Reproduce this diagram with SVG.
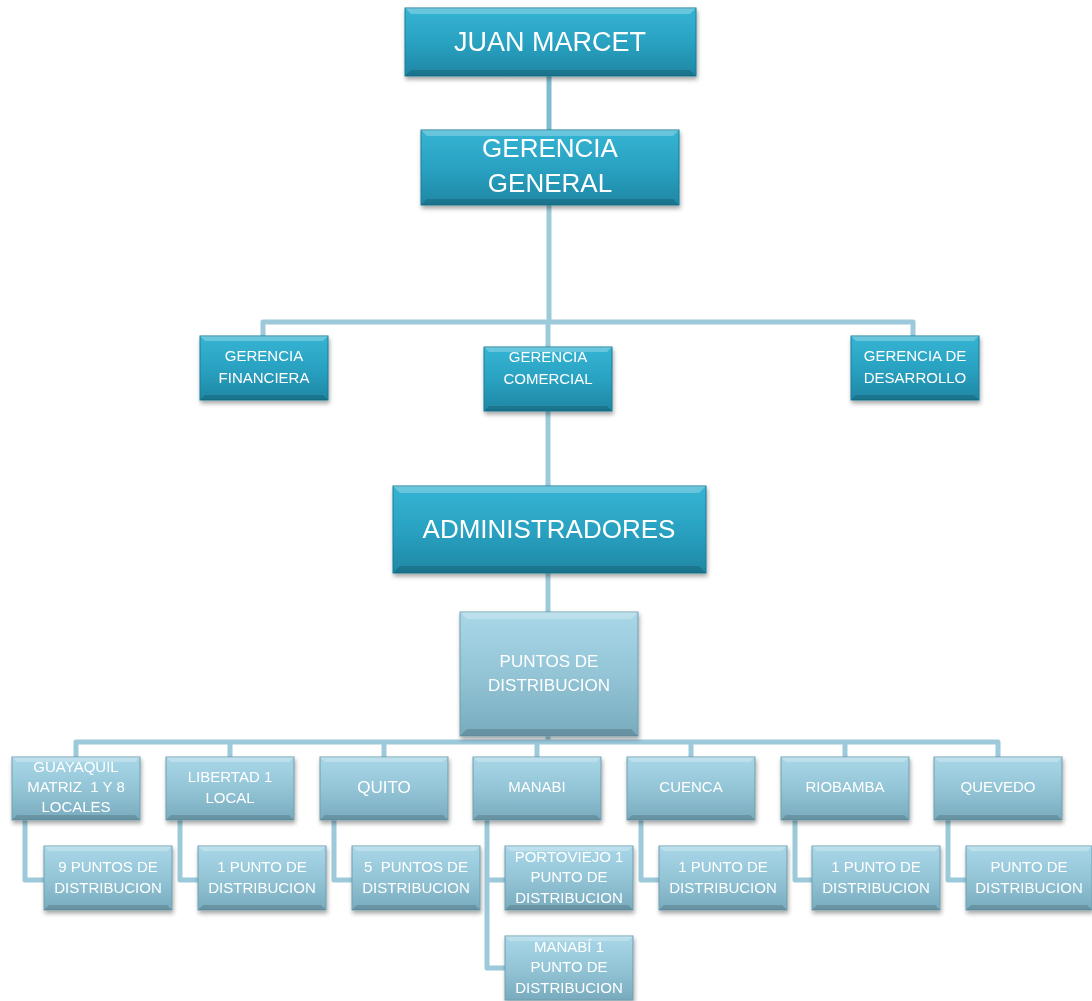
<svg xmlns="http://www.w3.org/2000/svg" width="1092" height="1001" viewBox="0 0 1092 1001">
<defs>
<linearGradient id="gDark" x1="0" y1="0" x2="0" y2="1">
<stop offset="0" stop-color="#35b4d3"/>
<stop offset="0.5" stop-color="#2aa2c2"/>
<stop offset="1" stop-color="#1e87a4"/>
</linearGradient>
<linearGradient id="gLight" x1="0" y1="0" x2="0" y2="1">
<stop offset="0" stop-color="#a9d7e8"/>
<stop offset="0.5" stop-color="#93c5d7"/>
<stop offset="1" stop-color="#78abbd"/>
</linearGradient>
<filter id="sh" x="-10%" y="-10%" width="130%" height="140%">
<feDropShadow dx="1" dy="3" stdDeviation="2" flood-color="#000" flood-opacity="0.35"/>
</filter>
</defs>
<style>
.dark{fill:url(#gDark);stroke:#1b7c97;stroke-width:1}
.light{fill:url(#gLight);stroke:#6f9fb0;stroke-width:1}
.bt{fill:#ffffff;opacity:0.25}
.bb{fill:#000000;opacity:0.15}
.bs{fill:#000000;opacity:0.06}
.node{filter:url(#sh)}
text{font-family:"Liberation Sans",Arial,sans-serif;fill:#ffffff;text-anchor:middle}
.big{font-size:27px}
.mid{font-size:26px}
.sm{font-size:15px}
.conn{fill:none;stroke:#9ccadb;stroke-width:5;stroke-linejoin:round}
.connD{fill:none;stroke:#7fbcd0;stroke-width:5}
</style>
<g id="connectors">
<path class="connD" d="M549,76 V130"/>
<path class="conn" d="M549,205 V322"/>
<path class="conn" d="M263,336 V322 H913 V336"/>
<path class="conn" d="M548,322 V347"/>
<path class="conn" d="M548,411 V486"/>
<path class="conn" d="M548,573 V612"/>
<path class="conn" d="M548,736 V742"/>
<path class="conn" d="M76,757 V742 H998 V757"/>
<path class="conn" d="M230,742 V757 M384,742 V757 M537,742 V757 M691,742 V757 M845,742 V757"/>
<path class="conn" d="M25,820 V880 H44"/>
<path class="conn" d="M180,820 V880 H198"/>
<path class="conn" d="M334,820 V880 H352"/>
<path class="conn" d="M487,820 V968 H505 M487,880 H505"/>
<path class="conn" d="M641,820 V880 H659"/>
<path class="conn" d="M795,820 V880 H812"/>
<path class="conn" d="M948,820 V880 H966"/>
</g>
<g id="juan-marcet" class="node">
<rect class="dark" x="405" y="8" width="291" height="68"/>
<polygon class="bt" points="405,8 696,8 690,14 411,14"/>
<polygon class="bb" points="405,76 696,76 690,70 411,70"/>
<text class="big" x="550" y="51">JUAN MARCET</text>
</g>
<g id="gerencia-general" class="node">
<rect class="dark" x="421" y="130" width="258" height="75"/>
<polygon class="bt" points="421,130 679,130 673,136 427,136"/>
<polygon class="bb" points="421,205 679,205 673,199 427,199"/>
<text class="mid" x="550" y="157">GERENCIA</text>
<text class="mid" x="550" y="192">GENERAL</text>
</g>
<g id="gerencia-financiera" class="node">
<rect class="dark" x="200" y="336" width="128" height="64"/>
<polygon class="bt" points="200,336 328,336 323,341 205,341"/>
<polygon class="bb" points="200,400 328,400 323,395 205,395"/>
<text class="sm" x="264" y="361">GERENCIA</text>
<text class="sm" x="264" y="383">FINANCIERA</text>
</g>
<g id="gerencia-comercial" class="node">
<rect class="dark" x="484" y="347" width="128" height="64"/>
<polygon class="bt" points="484,347 612,347 607,352 489,352"/>
<polygon class="bb" points="484,411 612,411 607,406 489,406"/>
<text class="sm" x="548" y="362">GERENCIA</text>
<text class="sm" x="548" y="384">COMERCIAL</text>
</g>
<g id="gerencia-desarrollo" class="node">
<rect class="dark" x="851" y="336" width="128" height="64"/>
<polygon class="bt" points="851,336 979,336 974,341 856,341"/>
<polygon class="bb" points="851,400 979,400 974,395 856,395"/>
<text class="sm" x="915" y="361">GERENCIA DE</text>
<text class="sm" x="915" y="383">DESARROLLO</text>
</g>
<g id="administradores" class="node">
<rect class="dark" x="393" y="486" width="313" height="87"/>
<polygon class="bt" points="393,486 706,486 699,493 400,493"/>
<polygon class="bb" points="393,573 706,573 699,566 400,566"/>
<text class="mid" x="549" y="538">ADMINISTRADORES</text>
</g>
<g id="puntos-distribucion" class="node">
<rect class="light" x="460" y="612" width="178" height="124"/>
<polygon class="bt" points="460,612 638,612 631,619 467,619"/>
<polygon class="bb" points="460,736 638,736 631,729 467,729"/>
<text x="549" y="667" font-size="17">PUNTOS DE</text>
<text x="549" y="691" font-size="17">DISTRIBUCION</text>
</g>
<g id="guayaquil" class="node">
<rect class="light" x="12" y="757" width="128" height="63"/>
<polygon class="bt" points="12,757 140,757 135,762 17,762"/>
<polygon class="bb" points="12,820 140,820 135,815 17,815"/>
<text class="sm" x="76" y="772">GUAYAQUIL</text>
<text class="sm" x="76" y="792" xml:space="preserve">MATRIZ  1 Y 8</text>
<text class="sm" x="76" y="812">LOCALES</text>
</g>
<g id="libertad" class="node">
<rect class="light" x="166" y="757" width="128" height="63"/>
<polygon class="bt" points="166,757 294,757 289,762 171,762"/>
<polygon class="bb" points="166,820 294,820 289,815 171,815"/>
<text class="sm" x="230" y="782">LIBERTAD 1</text>
<text class="sm" x="230" y="803">LOCAL</text>
</g>
<g id="quito" class="node">
<rect class="light" x="320" y="757" width="128" height="63"/>
<polygon class="bt" points="320,757 448,757 443,762 325,762"/>
<polygon class="bb" points="320,820 448,820 443,815 325,815"/>
<text x="384" y="793" font-size="17">QUITO</text>
</g>
<g id="manabi" class="node">
<rect class="light" x="473" y="757" width="128" height="63"/>
<polygon class="bt" points="473,757 601,757 596,762 478,762"/>
<polygon class="bb" points="473,820 601,820 596,815 478,815"/>
<text class="sm" x="537" y="792">MANABI</text>
</g>
<g id="cuenca" class="node">
<rect class="light" x="627" y="757" width="128" height="63"/>
<polygon class="bt" points="627,757 755,757 750,762 632,762"/>
<polygon class="bb" points="627,820 755,820 750,815 632,815"/>
<text class="sm" x="691" y="792">CUENCA</text>
</g>
<g id="riobamba" class="node">
<rect class="light" x="781" y="757" width="128" height="63"/>
<polygon class="bt" points="781,757 909,757 904,762 786,762"/>
<polygon class="bb" points="781,820 909,820 904,815 786,815"/>
<text class="sm" x="845" y="792">RIOBAMBA</text>
</g>
<g id="quevedo" class="node">
<rect class="light" x="934" y="757" width="128" height="63"/>
<polygon class="bt" points="934,757 1062,757 1057,762 939,762"/>
<polygon class="bb" points="934,820 1062,820 1057,815 939,815"/>
<text class="sm" x="998" y="792">QUEVEDO</text>
</g>
<g id="guayaquil-puntos" class="node">
<rect class="light" x="44" y="846" width="128" height="64"/>
<polygon class="bt" points="44,846 172,846 167,851 49,851"/>
<polygon class="bb" points="44,910 172,910 167,905 49,905"/>
<text class="sm" x="108" y="872">9 PUNTOS DE</text>
<text class="sm" x="108" y="893">DISTRIBUCION</text>
</g>
<g id="libertad-puntos" class="node">
<rect class="light" x="198" y="846" width="128" height="64"/>
<polygon class="bt" points="198,846 326,846 321,851 203,851"/>
<polygon class="bb" points="198,910 326,910 321,905 203,905"/>
<text class="sm" x="262" y="872">1 PUNTO DE</text>
<text class="sm" x="262" y="893">DISTRIBUCION</text>
</g>
<g id="quito-puntos" class="node">
<rect class="light" x="352" y="846" width="128" height="64"/>
<polygon class="bt" points="352,846 480,846 475,851 357,851"/>
<polygon class="bb" points="352,910 480,910 475,905 357,905"/>
<text class="sm" x="416" y="872" xml:space="preserve">5  PUNTOS DE</text>
<text class="sm" x="416" y="893">DISTRIBUCION</text>
</g>
<g id="portoviejo-puntos" class="node">
<rect class="light" x="505" y="846" width="128" height="64"/>
<polygon class="bt" points="505,846 633,846 628,851 510,851"/>
<polygon class="bb" points="505,910 633,910 628,905 510,905"/>
<text class="sm" x="569" y="862">PORTOVIEJO 1</text>
<text class="sm" x="569" y="882">PUNTO DE</text>
<text class="sm" x="569" y="903">DISTRIBUCION</text>
</g>
<g id="manabi-puntos" class="node">
<rect class="light" x="505" y="936" width="128" height="64"/>
<polygon class="bt" points="505,936 633,936 628,941 510,941"/>
<text class="sm" x="569" y="952">MANABÍ 1</text>
<text class="sm" x="569" y="972">PUNTO DE</text>
<text class="sm" x="569" y="993">DISTRIBUCION</text>
</g>
<g id="cuenca-puntos" class="node">
<rect class="light" x="659" y="846" width="128" height="64"/>
<polygon class="bt" points="659,846 787,846 782,851 664,851"/>
<polygon class="bb" points="659,910 787,910 782,905 664,905"/>
<text class="sm" x="723" y="872">1 PUNTO DE</text>
<text class="sm" x="723" y="893">DISTRIBUCION</text>
</g>
<g id="riobamba-puntos" class="node">
<rect class="light" x="812" y="846" width="128" height="64"/>
<polygon class="bt" points="812,846 940,846 935,851 817,851"/>
<polygon class="bb" points="812,910 940,910 935,905 817,905"/>
<text class="sm" x="876" y="872">1 PUNTO DE</text>
<text class="sm" x="876" y="893">DISTRIBUCION</text>
</g>
<g id="quevedo-puntos" class="node">
<rect class="light" x="966" y="846" width="126" height="64"/>
<polygon class="bt" points="966,846 1092,846 1087,851 971,851"/>
<polygon class="bb" points="966,910 1092,910 1087,905 971,905"/>
<text class="sm" x="1029" y="872">PUNTO DE</text>
<text class="sm" x="1029" y="893">DISTRIBUCION</text>
</g>
</svg>
